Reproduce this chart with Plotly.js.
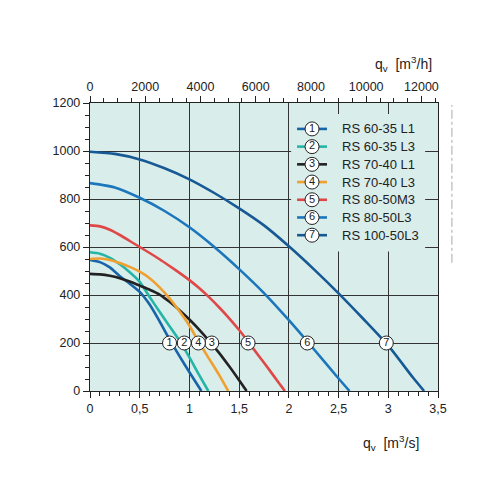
<!DOCTYPE html>
<html>
<head>
<meta charset="utf-8">
<script src="https://cdn.plot.ly/plotly-3.0.1.min.js"></script>
<style>
  body { margin: 0; background: #fff; }
  #chart { width: 500px; height: 500px; }
</style>
</head>
<body>
<div id="chart"></div>
<script>
// fan curves, q in m3/s, p in Pa
const q1 = [0, 0.1, 0.2, 0.3, 0.4, 0.5, 0.6, 0.7, 0.8, 0.9, 1.0, 1.12];
const p1 = [546, 537, 515, 478, 447, 413, 360, 290, 215, 145, 78, 0];

const q2 = [0, 0.1, 0.2, 0.3, 0.4, 0.5, 0.6, 0.7, 0.8, 0.9, 1.0, 1.1, 1.19];
const p2 = [578, 572, 555, 528, 495, 455, 392, 330, 270, 210, 140, 65, 0];

const q3 = [0, 0.1, 0.2, 0.3, 0.4, 0.5, 0.6, 0.7, 0.8, 0.9, 1.0, 1.1, 1.2, 1.3, 1.4, 1.5, 1.575];
const p3 = [488, 486, 480, 470, 456, 439, 422, 402, 372, 337, 298, 255, 208, 158, 103, 45, 0];

const q4 = [0, 0.1, 0.2, 0.3, 0.4, 0.5, 0.6, 0.7, 0.8, 0.9, 1.0, 1.1, 1.2, 1.3, 1.39];
const p4 = [550, 552, 546, 533, 517, 497, 470, 432, 386, 332, 272, 200, 133, 66, 0];

const q5 = [0, 0.1, 0.2, 0.3, 0.4, 0.5, 0.6, 0.7, 0.8, 0.9, 1.0, 1.1, 1.2, 1.3, 1.4, 1.5, 1.6, 1.7, 1.8, 1.9, 1.96];
const p5 = [690, 686, 672, 650, 625, 600, 575, 549, 521, 492, 462, 428, 390, 348, 303, 254, 200, 145, 90, 33, 0];

const q6 = [0, 0.25, 0.5, 0.75, 1.0, 1.25, 1.5, 1.75, 2.0, 2.25, 2.5, 2.61];
const p6 = [866, 848, 805, 750, 682, 600, 508, 408, 295, 175, 52, 0];

const q7 = [0, 0.25, 0.5, 0.75, 1.0, 1.25, 1.5, 1.75, 2.0, 2.25, 2.5, 2.75, 3.0, 3.25, 3.36];
const p7 = [997, 988, 965, 928, 882, 825, 761, 690, 603, 508, 407, 300, 189, 55, 0];

const names = ["RS 60-35 L1", "RS 60-35 L3", "RS 70-40 L1", "RS 70-40 L3", "RS 80-50M3", "RS 80-50L3", "RS 100-50L3"];
const colors = ["#1764a8", "#25b5a7", "#222222", "#f0a030", "#e04848", "#1b76bc", "#175995"];
const labelNums = ["1", "2", "3", "4", "5", "6", "7"];
const labelQ = [0.8, 0.948, 1.225, 1.09, 1.59, 2.185, 2.98];
const labelP = [200, 200, 200, 200, 200, 200, 200];

const allQ = [q1, q2, q3, q4, q5, q6, q7];
const allP = [p1, p2, p3, p4, p5, p6, p7];

const font = "Liberation Sans, Arial, sans-serif";
const bg = "#d9edeb";
const qMax = 3.5, pMax = 1200;

let traces = [];

// legend box: plain fill drawn first so it covers the grid but not the curves
const box = { x0: 0.578, x1: 0.963, y0: 0.484, y1: 0.962 }; // fractions of the plot area
traces.push({
  x: [box.x0, box.x1, box.x1, box.x0, box.x0].map((f) => f * qMax),
  y: [box.y0, box.y0, box.y1, box.y1, box.y0].map((f) => f * pMax),
  type: "scatter", mode: "lines", fill: "toself", fillcolor: bg,
  line: { width: 0, color: bg }, hoverinfo: "skip", showlegend: false,
});

allQ.forEach((q, i) => {
  traces.push({
    x: q, y: allP[i], type: "scatter", mode: "lines",
    line: { color: colors[i], width: 2.6, shape: "spline", smoothing: 0.6 },
    hoverinfo: "skip", showlegend: false,
  });
});

// circled numbers on the curves
traces.push({
  x: labelQ, y: labelP, text: labelNums, type: "scatter", mode: "markers+text",
  marker: { size: 14, color: "#fff", line: { color: "#222", width: 1 } },
  textposition: "middle center",
  textfont: { family: font, size: 11, color: "#222" },
  showlegend: false, hoverinfo: "skip",
});

// legend drawn on a hidden overlay axis (0..1 in both directions)
const legX0 = 0.595, legX1 = 0.681, legTop = 0.91, legStep = 0.0615;
let legendYs = names.map((n, i) => legTop - i * legStep);
names.forEach((n, i) => {
  traces.push({
    x: [legX0, legX1], y: [legendYs[i], legendYs[i]], xaxis: "x3", yaxis: "y3",
    type: "scatter", mode: "lines", line: { color: colors[i], width: 2.6 },
    showlegend: false, hoverinfo: "skip",
  });
});
traces.push({
  x: names.map(() => (legX0 + legX1) / 2), y: legendYs, text: labelNums,
  xaxis: "x3", yaxis: "y3", type: "scatter", mode: "markers+text",
  marker: { size: 14, color: "#fff", line: { color: "#222", width: 1 } },
  textposition: "middle center",
  textfont: { family: font, size: 11, color: "#222" },
  showlegend: false, hoverinfo: "skip",
});

// top axis (m3/h) needs a trace to exist
traces.push({ x: [0], y: [0], xaxis: "x2", type: "scatter", mode: "markers",
  marker: { opacity: 0 }, showlegend: false, hoverinfo: "skip" });

let annotations = names.map((n, i) => ({
  xref: "paper", yref: "paper", x: 0.718, y: legendYs[i], xanchor: "left", yanchor: "middle",
  text: n, showarrow: false, font: { family: font, size: 13, color: "#222" },
}));
annotations.push({
  xref: "paper", yref: "paper", x: 0.9, y: 1.095, xanchor: "center", yanchor: "bottom",
  text: "q<sub>v</sub>  [m<sup>3</sup>/h]", showarrow: false, font: { family: font, size: 14, color: "#222" },
});
annotations.push({
  xref: "paper", yref: "paper", x: 0.865, y: -0.14, xanchor: "center", yanchor: "top",
  text: "q<sub>v</sub>  [m<sup>3</sup>/s]", showarrow: false, font: { family: font, size: 14, color: "#222" },
});

const layout = {
  width: 500, height: 500,
  margin: { l: 90, r: 62, t: 103, b: 109 },
  paper_bgcolor: "#fff", plot_bgcolor: bg,
  separators: ", ",
  font: { family: font, size: 12, color: "#222" },
  showlegend: false,
  xaxis: {
    range: [0, qMax], dtick: 0.5, tick0: 0,
    showgrid: true, gridcolor: "#333", gridwidth: 1,
    showline: true, linecolor: "#222", linewidth: 1.2, mirror: false,
    ticks: "outside", ticklen: 6, tickcolor: "#222", zeroline: false,
    minor: { dtick: 0.1, ticks: "outside", ticklen: 4, tickcolor: "#222", showgrid: false },
    tickfont: { family: font, size: 12.5, color: "#222" },
  },
  xaxis2: {
    overlaying: "x", side: "top", range: [0, qMax * 3600], dtick: 2000, tick0: 0, tickformat: "d",
    showgrid: false, showline: true, linecolor: "#222", linewidth: 1.2,
    ticks: "outside", ticklen: 6, tickcolor: "#222", zeroline: false,
    minor: { dtick: 500, ticks: "outside", ticklen: 4, tickcolor: "#222", showgrid: false },
    tickfont: { family: font, size: 12.5, color: "#222" },
  },
  yaxis: {
    range: [0, pMax], dtick: 200, tick0: 0,
    showgrid: true, gridcolor: "#333", gridwidth: 1,
    showline: true, linecolor: "#222", linewidth: 1.2, mirror: true,
    ticks: "outside", ticklen: 6, tickcolor: "#222", zeroline: false,
    minor: { dtick: 50, ticks: "outside", ticklen: 4, tickcolor: "#222", showgrid: false },
    tickfont: { family: font, size: 12.5, color: "#222" },
  },
  xaxis3: { overlaying: "x", range: [0, 1], visible: false, fixedrange: true },
  yaxis3: { overlaying: "y", range: [0, 1], visible: false, fixedrange: true },
  shapes: [
    { type: "line", xref: "paper", yref: "paper", x0: 1.04, x1: 1.04, y0: 0.445, y1: 0.993,
      line: { color: "#b0a8a0", width: 1, dash: "dashdot" } },
  ],
  annotations: annotations,
};

Plotly.newPlot("chart", traces, layout, { displayModeBar: false, staticPlot: true });
</script>
</body>
</html>
